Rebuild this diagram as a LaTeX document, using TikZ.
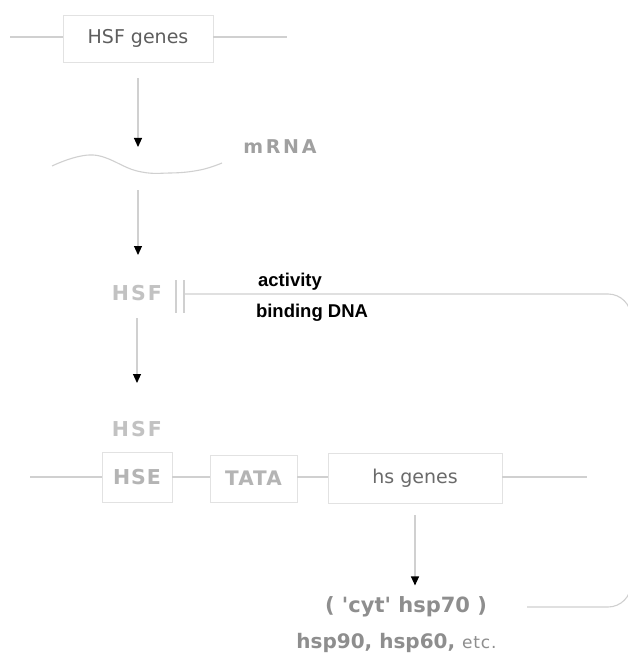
\documentclass[tikz,border=0pt]{standalone}
\usepackage{fontspec}
\setmainfont{DejaVu Sans}
\newfontfamily\arialf{Liberation Sans}
\usetikzlibrary{arrows.meta}
\definecolor{ln}{HTML}{D0D0D0}
\definecolor{bx}{HTML}{E2E2E2}
\definecolor{tHSF}{HTML}{C2C2C2}
\definecolor{tHSE}{HTML}{B4B4B4}
\definecolor{tmRNA}{HTML}{A0A0A0}
\definecolor{tgenes}{HTML}{5E5E5E}
\definecolor{ths}{HTML}{6A6A6A}
\definecolor{thsp}{HTML}{8E8E8E}
\begin{document}
\begin{tikzpicture}[x=1pt,y=-1pt,
  conn/.style={draw=ln, line width=1.1pt},
  arr/.style={conn, -{Triangle[length=9pt,width=8pt,color=black,fill=black]}},
  box/.style={draw=bx, line width=0.9pt, inner sep=0pt},
  txt/.style={inner sep=0pt}]
\fill[white] (0,0) rectangle (628,655);
\useasboundingbox (0,0) rectangle (628,655);
\clip (0,0) rectangle (628,655);

% top gene
\node[box, minimum width=150pt, minimum height=47pt, text=tgenes,
      font=\fontsize{19}{19}\selectfont] (hsfg) at (138,38.5) {HSF genes};
\coordinate (tl) at (10,37);
\coordinate (tr) at (287,37);
\draw[conn] (tl) -- (tl -| hsfg.west);
\draw[conn] (tr -| hsfg.east) -- (tr);

% mRNA
\draw[conn] plot[smooth, tension=0.7] coordinates {(52,166) (93,155) (137,171) (170,173) (200,170) (222,163)};
\node[txt, text=tmRNA, font=\fontsize{19}{19}\selectfont\bfseries\addfontfeature{LetterSpace=14}] (mrna) at (280,147) {mRNA};

\coordinate (a1e) at (138,147);
\draw[arr] ([yshift=-16pt]hsfg.south) -- (a1e);
\coordinate (a2s) at (138,190);
\coordinate (a2e) at (138,255);
\draw[arr] (a2s) -- (a2e);

% HSF
\node[txt, text=tHSF, font=\fontsize{20.5}{20.5}\selectfont\bfseries\addfontfeature{LetterSpace=10}] (hsf1) at (137,293) {HSF};
\coordinate (b1t) at (176,280);
\coordinate (b1b) at (176,313);
\coordinate (b2t) at (184,280);
\coordinate (b2b) at (184,313);
\draw[conn] (b1t) -- (b1b);
\draw[conn] (b2t) -- (b2b);
\coordinate (inh) at (184,294);
\coordinate (inhend) at (527,607);
\draw[conn, rounded corners=23pt] (inh) -- (631,294) -- (631,607) -- (inhend);

\node[txt, font=\arialf\fontsize{18.5}{18.5}\selectfont\bfseries] (act) at (290,282) {activity};
\node[txt, font=\arialf\fontsize{18.5}{18.5}\selectfont\bfseries] (bind) at (312,313) {binding DNA};

\draw[arr] ([yshift=-25pt]hsf1.center) -- ++(0,65) coordinate (a3e);

% HSF bound
\node[txt, text=tHSF, font=\fontsize{20.5}{20.5}\selectfont\bfseries\addfontfeature{LetterSpace=10}] (hsf2) at (137,429) {HSF};

% DNA row
\node[box, minimum width=70pt, minimum height=50pt, text=tHSE,
      font=\fontsize{20.5}{20.5}\selectfont\bfseries\addfontfeature{LetterSpace=5}] (hse) at (137,477) {HSE};
\node[box, minimum width=87pt, minimum height=47pt, text=tHSE,
      font=\fontsize{20}{20}\selectfont\bfseries\addfontfeature{LetterSpace=5}] (tata) at (253.5,478.5) {TATA};
\node[box, minimum width=174pt, minimum height=50pt, text=ths,
      font=\fontsize{19}{19}\selectfont] (hsg) at (415,478) {hs genes};
\coordinate (dl) at (30,477);
\coordinate (dr) at (587,477);
\draw[conn] (dl) -- (dl -| hse.west);
\draw[conn] (dl -| hse.east) -- (dl -| tata.west);
\draw[conn] (dl -| tata.east) -- (dl -| hsg.west);
\draw[conn] (dl -| hsg.east) -- (dr);

\draw[arr] ([yshift=-12pt]hsg.south) -- ++(0,70) coordinate (a4e);

\node[txt, text=thsp, font=\fontsize{21}{21}\selectfont\bfseries\addfontfeature{Ligatures=TeXOff}] (cyt) at (406,607) {( 'cyt' hsp70 )};
\node[txt, text=thsp, font=\fontsize{20}{20}\selectfont\bfseries] (hsp) at (396.5,643) {hsp90, hsp60, {\fontsize{17}{17}\selectfont\mdseries\addfontfeature{LetterSpace=5}etc.}};
\end{tikzpicture}
\end{document}
